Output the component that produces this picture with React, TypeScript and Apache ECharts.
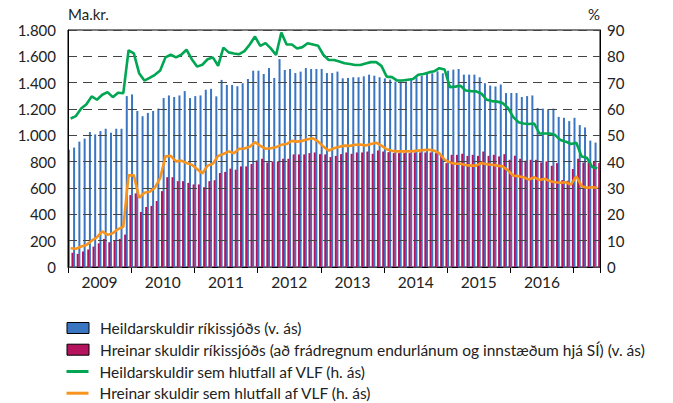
import React, { useEffect, useRef } from "react";
import * as echarts from "echarts";

const yearLabels = ["2009", "2010", "2011", "2012", "2013", "2014", "2015", "2016"];
const startYear = 2009;
const monthCount = 101; // Jan 2009 – May 2017

const totalDebt = [
  890, 907, 952, 975, 1025, 1007, 1032, 1050, 1020, 1050, 1050, 1298,
  1311, 1185, 1145, 1170, 1185, 1203, 1283, 1303, 1291, 1303, 1336, 1283,
  1298, 1303, 1346, 1353, 1296, 1421, 1383, 1383, 1373, 1396, 1428, 1491,
  1491, 1466, 1511, 1436, 1579, 1496, 1504, 1473, 1484, 1511, 1504, 1504,
  1504, 1473, 1473, 1484, 1433, 1436, 1441, 1441, 1448, 1461, 1453, 1441,
  1433, 1423, 1408, 1408, 1408, 1421, 1440, 1453, 1466, 1471, 1486, 1471,
  1491, 1499, 1504, 1461, 1461, 1461, 1441, 1396, 1378, 1371, 1386, 1321,
  1321, 1321, 1291, 1298, 1303, 1208, 1203, 1198, 1203, 1140, 1133, 1108,
  1133, 1078, 1060, 960, 945,
];

const netDebt = [
  108, 100, 118, 133, 155, 180, 213, 188, 200, 213, 246, 546,
  559, 418, 456, 464, 501, 576, 682, 682, 652, 652, 639, 627,
  627, 606, 652, 659, 714, 722, 747, 739, 764, 764, 782, 809,
  822, 794, 802, 802, 822, 822, 855, 855, 855, 865, 870, 857,
  855, 835, 844, 857, 870, 860, 870, 870, 877, 860, 885, 877,
  872, 865, 865, 865, 865, 870, 870, 870, 870, 865, 852, 789,
  852, 852, 860, 844, 852, 844, 877, 844, 852, 840, 857, 814,
  845, 822, 807, 814, 814, 794, 802, 769, 789, 660, 655, 744,
  822, 794, 802, 802, 789,
];

const totalPctGdp = [
  56.4, 57.3, 60.2, 61.8, 64.8, 63.5, 65.4, 66.4, 64.5, 66.2, 66.0, 82.3,
  81.1, 73.6, 70.8, 71.8, 73.0, 74.6, 79.6, 80.6, 79.6, 80.6, 82.5, 78.9,
  76.1, 76.8, 78.9, 79.6, 76.4, 83.3, 81.5, 81.1, 80.8, 82.0, 84.5, 87.5,
  84.0, 85.0, 83.0, 80.5, 89.0, 84.5, 84.5, 83.0, 83.5, 85.0, 84.5, 84.0,
  80.5, 78.6, 78.6, 78.0, 77.4, 77.1, 76.7, 76.7, 77.3, 77.8, 77.8, 76.4,
  72.3, 72.1, 70.8, 70.8, 71.1, 71.4, 73.0, 73.3, 73.9, 74.3, 75.5, 75.0,
  68.3, 68.5, 68.8, 67.0, 66.8, 66.7, 65.8, 63.5, 63.0, 62.8, 62.3, 60.5,
  57.0, 55.0, 54.5, 54.3, 54.5, 50.7, 50.7, 50.7, 50.1, 48.2, 47.6, 46.7,
  47.2, 42.0, 41.5, 38.0, 37.5,
];

const netPctGdp = [
  7.1, 6.9, 7.8, 8.4, 10.0, 11.3, 13.5, 12.2, 12.8, 14.4, 15.3, 34.8,
  34.8, 26.3, 28.2, 28.6, 30.1, 33.8, 42.0, 42.2, 40.1, 40.4, 39.5, 38.8,
  37.2, 35.5, 38.5, 39.2, 42.2, 42.9, 43.9, 43.2, 44.9, 45.0, 45.7, 47.4,
  46.0, 44.9, 45.1, 45.5, 46.4, 46.7, 47.9, 47.6, 47.9, 48.5, 48.9, 47.6,
  45.7, 44.2, 45.1, 45.7, 46.1, 46.0, 46.4, 46.5, 46.1, 46.7, 47.2, 46.1,
  44.7, 44.1, 43.9, 43.9, 43.9, 44.0, 44.2, 44.4, 44.5, 44.2, 43.2, 40.7,
  39.7, 39.2, 39.2, 38.7, 38.5, 38.5, 39.5, 39.0, 38.8, 38.5, 38.2, 36.8,
  34.7, 34.5, 34.1, 33.2, 34.1, 33.0, 33.5, 32.6, 32.2, 32.0, 32.2, 31.3,
  34.5, 30.7, 30.1, 30.3, 30.1,
];

const seriesNames = [
  "Heildarskuldir ríkissjóðs (v. ás)",
  "Hreinar skuldir ríkissjóðs (að frádregnum endurlánum og innstæðum hjá SÍ) (v. ás)",
  "Heildarskuldir sem hlutfall af VLF (h. ás)",
  "Hreinar skuldir sem hlutfall af VLF (h. ás)",
];

const colors = ["#3a75c2", "#b5135e", "#00a651", "#f7941d"];

const monthCats: string[] = [];
for (let i = 0; i < monthCount; i++) {
  const y = startYear + Math.floor(i / 12);
  const m = (i % 12) + 1;
  monthCats.push(`${y}-${m < 10 ? "0" + m : m}`);
}
const boundaryCats: string[] = [];
for (let i = 0; i <= monthCount; i++) boundaryCats.push(String(i));

const FONT = "Lato";

export default function App() {
  const ref = useRef<HTMLDivElement>(null);
  useEffect(() => {
    if (!ref.current) return;
    const chart = echarts.init(ref.current, undefined, { renderer: "svg" });
    const fmtThousands = (v: number) =>
      String(v).replace(/\B(?=(\d{3})+(?!\d))/g, ".");
    const legendText = {
      fontFamily: FONT,
      fontSize: 15.5,
      color: "#222",
      lineHeight: 16,
      padding: [0, 0, 0, 6],
    };
    chart.setOption({
      animation: false,
      textStyle: { fontFamily: FONT },
      grid: {
        left: 68,
        right: 73,
        top: 30,
        bottom: 136,
        show: true,
        borderColor: "#000",
        borderWidth: 1,
        backgroundColor: "transparent",
      },
      legend: [
        {
          orient: "vertical",
          left: 66.5,
          top: 320,
          padding: 0,
          width: 600,
          height: 60,
          itemWidth: 22,
          itemHeight: 11,
          itemGap: 5.7,
          textStyle: legendText,
          data: [
            { name: seriesNames[0], icon: "rect", itemStyle: { borderColor: "#000", borderWidth: 1 } },
            { name: seriesNames[1], icon: "rect", itemStyle: { borderColor: "#000", borderWidth: 1 } },
          ],
        },
        {
          orient: "vertical",
          left: 66.5,
          top: 363.5,
          padding: 0,
          width: 600,
          height: 60,
          itemWidth: 22,
          itemHeight: 3,
          itemGap: 5.7,
          textStyle: legendText,
          data: [
            { name: seriesNames[2], icon: "rect", itemStyle: { color: colors[2], borderWidth: 0 } },
            { name: seriesNames[3], icon: "rect", itemStyle: { color: colors[3], borderWidth: 0 } },
          ],
        },
      ],
      xAxis: [
        {
          type: "category",
          data: monthCats,
          boundaryGap: true,
          show: false,
        },
        {
          type: "category",
          data: boundaryCats,
          boundaryGap: false,
          position: "bottom",
          axisLine: { show: true, lineStyle: { color: "#000", width: 1 } },
          axisTick: {
            show: true,
            length: 6,
            interval: (i: number) => i % 12 === 0 || i === monthCount,
            lineStyle: { color: "#000" },
          },
          axisLabel: {
            interval: (i: number) => i % 12 === 6,
            formatter: (_v: string, i: number) => {
              const k = (i - 6) / 12;
              return k >= 0 && k < yearLabels.length ? yearLabels[k] : "";
            },
            margin: 7,
            fontFamily: FONT,
            fontSize: 15.5,
            color: "#222",
          },
        },
      ],
      yAxis: [
        {
          type: "value",
          min: 0,
          max: 1800,
          interval: 200,
          position: "left",
          z: 5,
          name: "Ma.kr.",
          nameLocation: "end",
          nameGap: 9,
          nameTextStyle: { align: "left", fontFamily: FONT, fontSize: 15, color: "#222" },
          axisLine: { show: true, lineStyle: { color: "#000" } },
          axisTick: { show: false },
          axisLabel: {
            formatter: (v: number) => fmtThousands(v),
            margin: 12,
            fontFamily: FONT,
            fontSize: 15,
            color: "#222",
          },
          splitLine: {
            show: true,
            lineStyle: { color: "#444", width: 1, type: [9, 6] },
          },
        },
        {
          type: "value",
          min: 0,
          max: 90,
          interval: 10,
          position: "right",
          name: "%",
          nameLocation: "end",
          nameGap: 9,
          nameTextStyle: { align: "right", fontFamily: FONT, fontSize: 15, color: "#222" },
          axisLine: { show: true, lineStyle: { color: "#000" } },
          axisTick: { show: false },
          axisLabel: { margin: 7, fontFamily: FONT, fontSize: 15, color: "#222" },
          splitLine: { show: false },
        },
      ],
      series: [
        {
          name: seriesNames[0],
          type: "bar",
          xAxisIndex: 0,
          yAxisIndex: 0,
          data: totalDebt,
          barWidth: 2,
          barGap: "80%",
          itemStyle: { color: colors[0] },
        },
        {
          name: seriesNames[1],
          type: "bar",
          xAxisIndex: 0,
          yAxisIndex: 0,
          data: netDebt,
          barWidth: 2,
          barGap: "80%",
          itemStyle: { color: colors[1] },
        },
        {
          name: seriesNames[2],
          type: "line",
          xAxisIndex: 0,
          yAxisIndex: 1,
          data: totalPctGdp,
          symbol: "none",
          z: 6,
          lineStyle: { color: colors[2], width: 2.6 },
          itemStyle: { color: colors[2] },
        },
        {
          name: seriesNames[3],
          type: "line",
          xAxisIndex: 0,
          yAxisIndex: 1,
          data: netPctGdp,
          symbol: "none",
          z: 6,
          lineStyle: { color: colors[3], width: 2.6 },
          itemStyle: { color: colors[3] },
        },
      ],
    });
    return () => chart.dispose();
  }, []);
  return (
    <div
      ref={ref}
      style={{ position: "absolute", left: 0, top: 0, width: 673, height: 403 }}
    />
  );
}
